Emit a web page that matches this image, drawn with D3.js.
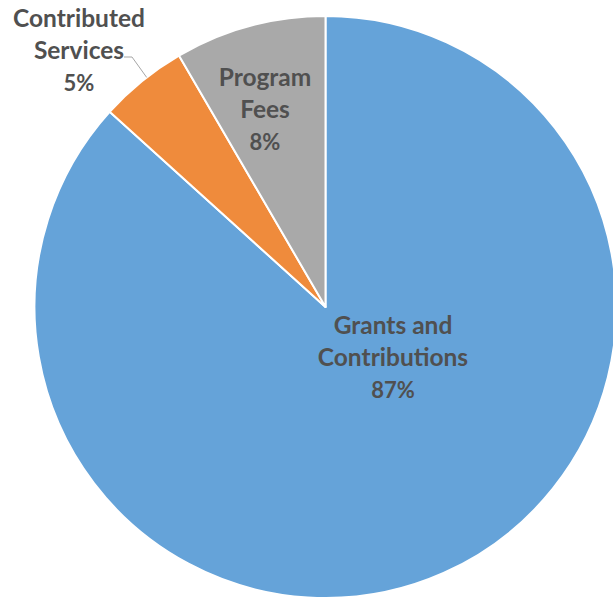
<!DOCTYPE html>
<html><head><meta charset="utf-8">
<script src="https://cdn.jsdelivr.net/npm/d3@7"></script>
<style>html,body{margin:0;padding:0;background:#fff;}svg{display:block;}</style>
</head><body>
<script>
const categories = ["Grants and Contributions", "Contributed Services", "Program Fees"];
const values = [86.7, 4.9, 8.4];
const labelLines = [["Grants and", "Contributions", "87%"], ["Contributed", "Services", "5%"], ["Program", "Fees", "8%"]];
const colors = ["#65a3d9", "#ef8b3c", "#a9a9a9"];

const W = 613, H = 601;
const cx = 325.5, cy = 307, R = 291;
const svg = d3.select("body").append("svg").attr("width", W).attr("height", H);
const g = svg.append("g").attr("transform", `translate(${cx},${cy})`);

const pie = d3.pie().sort(null).value(d => d)(values);
const arc = d3.arc().innerRadius(0).outerRadius(R);
g.selectAll("path").data(pie).enter().append("path")
  .attr("d", arc).attr("fill", (d, i) => colors[i])
  .attr("stroke", "#fff").attr("stroke-width", 2).attr("stroke-linejoin", "round");

const labelPos = [[393, 334], [79, 27], [265, 86]];
const lh = 32;
labelLines.forEach((lines, i) => {
  const t = svg.append("text").attr("text-anchor", "middle")
    .attr("font-family", "Lato, 'Open Sans', sans-serif").attr("font-weight", "bold")
    .attr("fill", "#505050");
  lines.forEach((s, j) => {
    t.append("tspan").attr("x", labelPos[i][0]).attr("y", labelPos[i][1] + j * lh)
      .attr("font-size", j === 2 ? 22 : 24.5).text(s);
  });
});

// leader line for Contributed Services
const a = (pie[1].startAngle + pie[1].endAngle) / 2 + 0.02;
const ex = cx + R * Math.sin(a), ey = cy - R * Math.cos(a);
svg.append("path").attr("d", `M124,57 L132,57 L${ex},${ey}`)
  .attr("fill", "none").attr("stroke", "#a6a6a6").attr("stroke-width", 1);
</script>
</body></html>
